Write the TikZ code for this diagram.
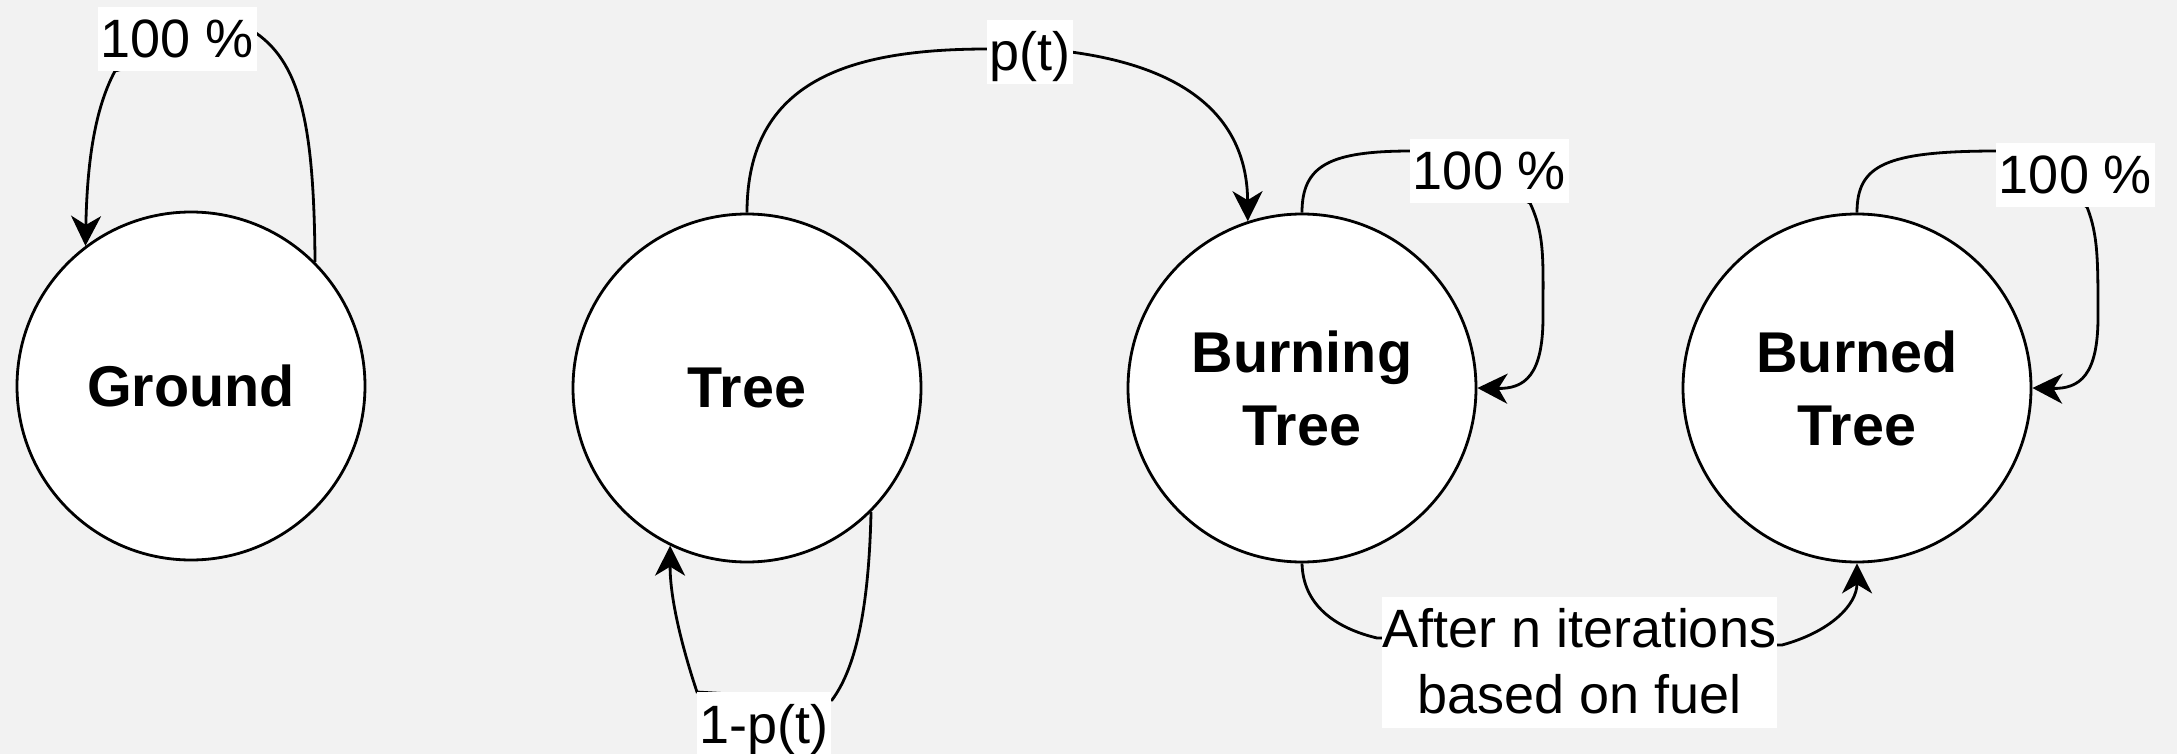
\documentclass[tikz,border=0pt]{standalone}
\usepackage{fontspec}
\setmainfont{Liberation Sans}
\usetikzlibrary{arrows.meta}
\definecolor{bgcol}{HTML}{F2F2F2}
\pgfdeclarelayer{bglayer}
\pgfdeclarelayer{edgelayer}
\pgfsetlayers{bglayer,edgelayer,main}
\begin{document}
\begin{tikzpicture}[x=1pt,y=-1pt,
  state/.style={circle, draw=black, line width=2.8pt, fill=white, minimum size=348pt, inner sep=0pt, align=center, font=\fontsize{57.5}{73}\selectfont\bfseries},
  lbl/.style={fill=white, inner xsep=2.5pt, inner ysep=0pt, text height=51pt, text depth=13pt, font=\fontsize{54}{64}\selectfont},
  lbltwo/.style={fill=white, inner xsep=1pt, inner ysep=0pt, align=center, font=\fontsize{54}{66}\selectfont},
  edge/.style={line width=2.8pt, draw=black, -{Stealth[length=30pt,width=30pt,inset=9pt]}}]
\begin{pgfonlayer}{bglayer}
  \fill[bgcol] (0,0) rectangle (2177,754);
\end{pgfonlayer}
\useasboundingbox (0,0) rectangle (2177,754);

\node[state] (g)  at (191,386)  {Ground};
\node[state] (t)  at (747,388)  {Tree};
\node[state] (bt) at (1302,388) {Burning\\Tree};
\node[state] (bd) at (1857,388) {Burned\\Tree};

\node[lbl] (lg)  at (177.5,39)  {100 \%};
\node[lbl] (lpt) at (1029.5,52) {p(t)};
\node[lbl] (lbt) at (1489.5,171) {100 \%};
\node[lbl] (lbd) at (2075.5,175) {100 \%};
\node[lbl] (lt)  at (764,724)   {1-p(t)};
\node[lbltwo] (lf) at (1579.5,662.5) {\rule{0pt}{50pt}After n iterations\\based on fuel\rule[-15pt]{0pt}{15pt}};

\begin{pgfonlayer}{edgelayer}
  % Ground self loop
  \draw[edge] (g.45) .. controls (314,130) and (302,65) .. (256,33) -- (115,71)
        .. controls (93,112) and (87,170) .. (g.127);
  % Tree -> Burning Tree
  \draw[edge] (t.north) .. controls (747,80) and (850,49) .. (988,49) -- (1071,52)
        .. controls (1190,68) and (1247,120) .. (bt.108);
  % Tree self loop
  \draw[edge] (t.-45) .. controls (869,600) and (858,665) .. (832,700) -- (697,692)
        .. controls (683,650) and (670,600) .. (t.244);
  % Burning self loop
  \draw[edge] (bt.north) .. controls (1302,165) and (1330,151) .. (1412,151) -- (1530,203)
        .. controls (1545,235) and (1543,260) .. (1543,317)
        .. controls (1543,375) and (1525,389) .. (bt.east);
  % Burned self loop
  \draw[edge] (bd.north) .. controls (1857,165) and (1885,151) .. (1998,151) -- (2087,207)
        .. controls (2098,235) and (2098,260) .. (2098,317)
        .. controls (2098,375) and (2080,389) .. (bd.east);
  % Burning -> Burned
  \draw[edge] (bt.south) .. controls (1303,605) and (1335,628) .. (1377,638) -- (1782,645)
        .. controls (1830,632) and (1857,605) .. (bd.south);
\end{pgfonlayer}
\end{tikzpicture}
\end{document}
